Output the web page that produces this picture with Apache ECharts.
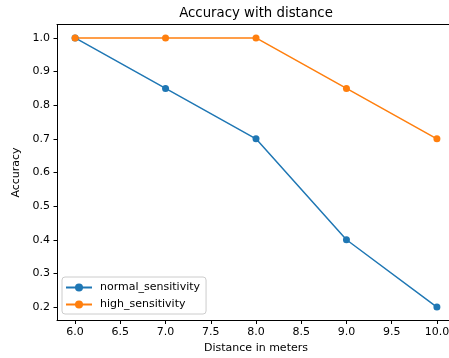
<!DOCTYPE html>
<html>
<head>
<meta charset="utf-8">
<script src="https://cdn.jsdelivr.net/npm/echarts@6/dist/echarts.min.js"></script>
<style>
  html, body { margin: 0; padding: 0; background: #fff; }
  #chart { width: 449px; height: 358px; }
</style>
</head>
<body>
<div id="chart"></div>
<script>
const distances = [6.0, 7.0, 8.0, 9.0, 10.0];
const normalSensitivity = [1.0, 0.85, 0.7, 0.4, 0.2];
const highSensitivity = [1.0, 1.0, 1.0, 0.85, 0.7];
const xTicks = [6.0, 6.5, 7.0, 7.5, 8.0, 8.5, 9.0, 9.5, 10.0];
const yTicks = [0.2, 0.3, 0.4, 0.5, 0.6, 0.7, 0.8, 0.9, 1.0];

const font = "DejaVu Sans";
const chart = echarts.init(document.getElementById("chart"));

const toPairs = (xs, ys) => xs.map((x, i) => [x, ys[i]]);

chart.setOption({
  animation: false,
  graphic: [
    {
      type: "text",
      x: 256,
      y: 14,
      style: {
        text: "Accuracy with distance",
        fontFamily: font,
        fontSize: 13.3,
        fill: "#000",
        align: "center",
        verticalAlign: "middle",
      },
    },
  ],
  grid: {
    left: 57,
    right: -6,
    top: 24.5,
    bottom: 37.5,
    outerBoundsMode: "none",
  },
  legend: {
    orient: "vertical",
    left: 62,
    top: 277,
    padding: [4, 6, 3, 3],
    itemWidth: 26,
    itemHeight: 10,
    itemGap: 4,
    backgroundColor: "rgba(255,255,255,0.8)",
    borderColor: "#ccc",
    borderWidth: 1,
    borderRadius: 3,
    textStyle: {
      fontFamily: font,
      fontSize: 11,
      color: "#000",
      lineHeight: 13,
      padding: [0, 0, 0, 3],
    },
    data: ["normal_sensitivity", "high_sensitivity"],
  },
  xAxis: [
    {
      type: "value",
      min: 5.8,
      max: 10.2,
      name: "Distance in meters",
      nameLocation: "middle",
      nameGap: 22,
      nameTextStyle: { fontFamily: font, fontSize: 11, color: "#000" },
      axisLine: { show: true, onZero: false, lineStyle: { color: "#000" } },
      axisTick: { show: true, length: 3.5, customValues: xTicks, lineStyle: { color: "#000" } },
      axisLabel: {
        customValues: xTicks,
        margin: 6,
        fontFamily: font,
        fontSize: 11,
        color: "#000",
        formatter: (v) => v.toFixed(1),
      },
      splitLine: { show: false },
    },
    {
      type: "value",
      position: "top",
      min: 5.8,
      max: 10.2,
      axisLine: { show: true, onZero: false, lineStyle: { color: "#000" } },
      axisTick: { show: false },
      axisLabel: { show: false },
      splitLine: { show: false },
    },
  ],
  yAxis: {
    type: "value",
    min: 0.16,
    max: 1.04,
    name: "Accuracy",
    nameLocation: "middle",
    nameGap: 30,
    nameTextStyle: { fontFamily: font, fontSize: 11, color: "#000" },
    axisLine: { show: true, onZero: false, lineStyle: { color: "#000" } },
    axisTick: { show: true, length: 3.5, customValues: yTicks, lineStyle: { color: "#000" } },
    axisLabel: {
      customValues: yTicks,
      margin: 7,
      fontFamily: font,
      fontSize: 11,
      color: "#000",
      formatter: (v) => v.toFixed(1),
    },
    splitLine: { show: false },
  },
  series: [
    {
      name: "normal_sensitivity",
      type: "line",
      data: toPairs(distances, normalSensitivity),
      symbol: "circle",
      symbolSize: 7,
      color: "#1f77b4",
      lineStyle: { width: 1.5 },
      itemStyle: { color: "#1f77b4" },
    },
    {
      name: "high_sensitivity",
      type: "line",
      data: toPairs(distances, highSensitivity),
      symbol: "circle",
      symbolSize: 7,
      color: "#ff7f0e",
      lineStyle: { width: 1.5 },
      itemStyle: { color: "#ff7f0e" },
    },
  ],
});
</script>
</body>
</html>
